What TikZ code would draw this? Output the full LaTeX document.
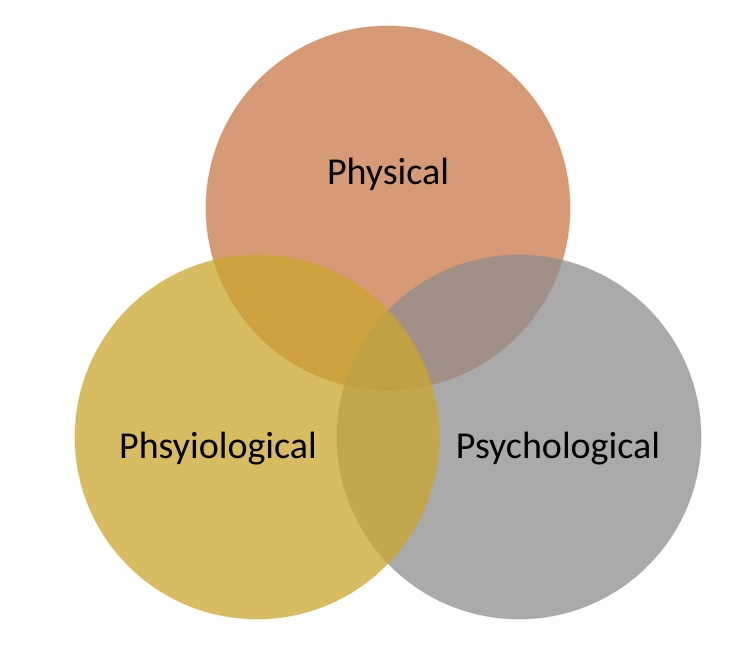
\documentclass[tikz,border=0pt]{standalone}
\usepackage{fontspec}
\setmainfont{Carlito}
\definecolor{cOrange}{RGB}{202,120,72}
\definecolor{cYellow}{RGB}{203,166,45}
\definecolor{cGray}{RGB}{142,142,142}
\begin{document}
\begin{tikzpicture}[x=1pt,y=-1pt,
  venn/.style={circle,minimum size=364pt,inner sep=0pt,fill opacity=0.75,draw opacity=0.3,line width=1.2pt},
  lbl/.style={anchor=base,font=\fontsize{38}{41}\selectfont,text=black,inner sep=0pt}]
\useasboundingbox (0,0) rectangle (753,651);
\node[venn,fill=cOrange,draw=cOrange] (phys) at (388,208) {};
\node[venn,fill=cGray,draw=cGray] (psych) at (519,437) {};
\node[venn,fill=cYellow,draw=cYellow] (phsy) at (257,437) {};
\node[lbl] (tphys) at (388,184) {Physical};
\node[lbl] (tphsy) at (218,458) {Phsyiological};
\node[lbl] (tpsych) at (558,458) {Psychological};
\end{tikzpicture}
\end{document}
